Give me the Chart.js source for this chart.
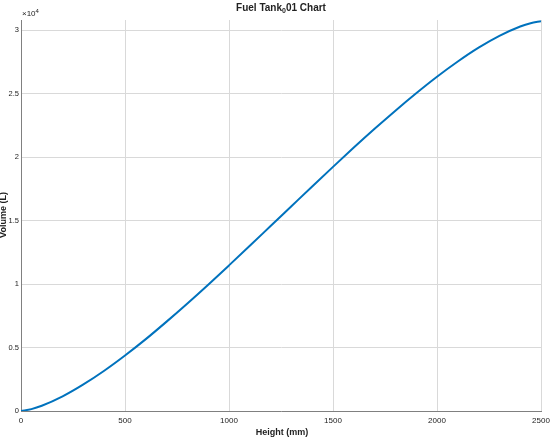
<!DOCTYPE html>
<html>
<head>
<meta charset="utf-8">
<script src="https://cdn.jsdelivr.net/npm/chart.js@4"></script>
<style>
  html, body { margin: 0; padding: 0; background: #fff; }
  #wrap { width: 550px; height: 444px; }
</style>
</head>
<body>
<div id="wrap"><canvas id="TankChart" width="550" height="444"></canvas></div>
<script>
// height in mm, volume in units of 10^4 L
var heights = [0, 50, 100, 200, 300, 400, 500, 600, 700, 800, 900, 1000, 1100, 1200, 1300, 1400, 1500, 1600, 1700, 1800, 1900, 2000, 2100, 2200, 2300, 2400, 2450, 2500];
var volumes = [0, 0.015, 0.041, 0.115, 0.209, 0.317, 0.437, 0.566, 0.704, 0.847, 0.995, 1.147, 1.301, 1.457, 1.613, 1.769, 1.923, 2.075, 2.223, 2.366, 2.503, 2.633, 2.753, 2.862, 2.955, 3.029, 3.055, 3.07];
var xTicks = [0, 500, 1000, 1500, 2000, 2500];
var yTicks = [0, 0.5, 1, 1.5, 2, 2.5, 3];

var fontFam = "'Liberation Sans', Arial, sans-serif";

var points = [];
for (var i = 0; i < heights.length; i++) {
    points.push({ x: heights[i], y: volumes[i] });
}

var textPlugin = {
    id: 'texts',
    afterDraw: function (chart) {
        var ctx = chart.ctx;
        var area = chart.chartArea;
        ctx.save();
        ctx.fillStyle = '#222';
        ctx.textBaseline = 'middle';
        // title with subscript 0
        var t1 = 'Fuel Tank', t2 = '0', t3 = '01 Chart';
        ctx.font = 'bold 10px ' + fontFam;
        var w1 = ctx.measureText(t1).width;
        var w3 = ctx.measureText(t3).width;
        ctx.font = 'bold 7px ' + fontFam;
        var w2 = ctx.measureText(t2).width;
        var sx = 281 - (w1 + w2 + w3) / 2;
        ctx.textAlign = 'left';
        ctx.font = 'bold 10px ' + fontFam;
        ctx.fillText(t1, sx, 8);
        ctx.font = 'bold 7px ' + fontFam;
        ctx.fillText(t2, sx + w1, 11);
        ctx.font = 'bold 10px ' + fontFam;
        ctx.fillText(t3, sx + w1 + w2, 8);
        // exponent
        ctx.font = '8px ' + fontFam;
        ctx.fillText('\u00d710', 22, 14);
        var we = ctx.measureText('\u00d710').width;
        ctx.font = '6px ' + fontFam;
        ctx.fillText('4', 22 + we, 11);
        // axis titles
        ctx.font = 'bold 9px ' + fontFam;
        ctx.textAlign = 'center';
        ctx.fillText('Height (mm)', (area.left + area.right) / 2 + 1, 433);
        ctx.translate(4, 215);
        ctx.rotate(-Math.PI / 2);
        ctx.fillText('Volume (L)', 0, 0);
        ctx.restore();
    }
};

var ctx = document.getElementById('TankChart').getContext('2d');
var tankChart = new Chart(ctx, {
    type: 'line',
    data: {
        datasets: [{
            data: points,
            borderColor: 'rgb(0, 114, 189)',
            borderWidth: 2,
            pointRadius: 0,
            fill: false,
            tension: 0.4,
            cubicInterpolationMode: 'monotone'
        }]
    },
    options: {
        responsive: false,
        animation: false,
        layout: { padding: { top: 20, right: 0, left: 0, bottom: 0 } },
        plugins: {
            legend: { display: false },
            tooltip: { enabled: false }
        },
        scales: {
            x: {
                type: 'linear',
                min: 0,
                max: 2500,
                afterBuildTicks: function (scale) {
                    scale.ticks = xTicks.map(function (v) { return { value: v }; });
                },
                afterFit: function (scale) {
                    scale.height = 33;
                    scale.paddingRight = 9;
                    scale.paddingLeft = 0;
                },
                grid: { color: '#d9d9d9', drawTicks: false, lineWidth: 1 },
                border: { color: '#808080', width: 1 },
                ticks: {
                    padding: 5,
                    maxRotation: 0,
                    color: '#222',
                    font: { family: fontFam, size: 8 },
                    callback: function (v) { return String(v); }
                }
            },
            y: {
                type: 'linear',
                min: 0,
                max: 3.08,
                afterBuildTicks: function (scale) {
                    scale.ticks = yTicks.map(function (v) { return { value: v }; });
                },
                afterFit: function (scale) { scale.width = 21; },
                grid: { color: '#d9d9d9', drawTicks: false, lineWidth: 1 },
                border: { color: '#808080', width: 1 },
                ticks: {
                    padding: 2,
                    color: '#222',
                    font: { family: fontFam, size: 7.5 },
                    callback: function (v) { return String(v); }
                }
            }
        }
    },
    plugins: [textPlugin]
});
</script>
</body>
</html>
